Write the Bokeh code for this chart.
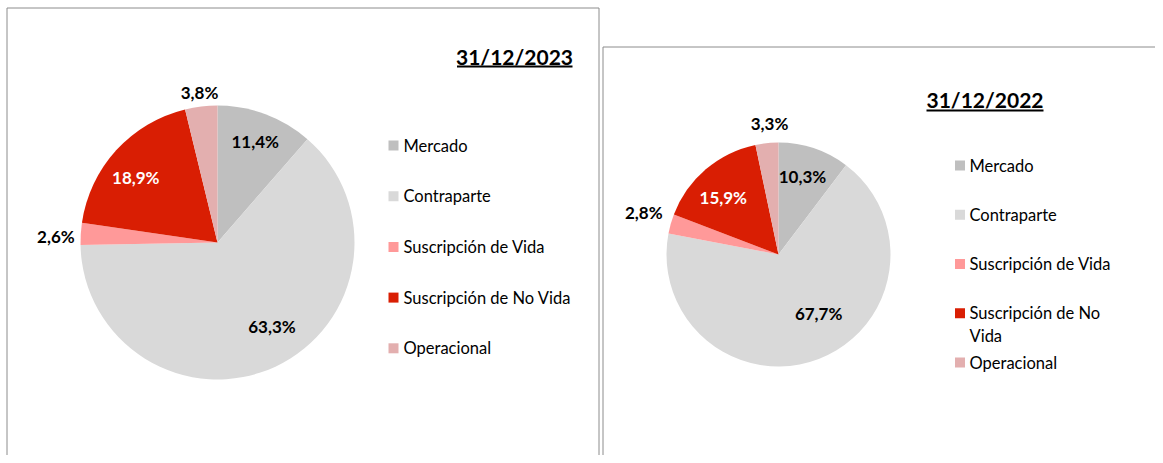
import math
from bokeh.plotting import figure
from bokeh.models import Range1d
from bokeh.core.properties import value
from bokeh.embed import file_html
from bokeh.resources import INLINE

# ---------------- data ----------------
categories = ["Mercado", "Contraparte", "Suscripción de Vida",
              "Suscripción de No Vida", "Operacional"]
values_2023 = [11.4, 63.3, 2.6, 18.9, 3.8]
values_2022 = [10.3, 67.7, 2.8, 15.9, 3.3]
title_2023 = "31/12/2023"
title_2022 = "31/12/2022"

# ---------------- style ----------------
colors = ["#BFBFBF", "#D9D9D9", "#FF9999", "#D91E03", "#E3AFAF"]
label_colors = ["#000000", "#000000", "#000000", "#FFFFFF", "#000000"]
FONT = "Lato"

W, H = 1155, 455


def X(px):
    return px


def Y(py):
    return H - py


p = figure(width=W, height=H, x_range=Range1d(0, W), y_range=Range1d(0, H),
           output_backend="svg", toolbar_location=None, min_border=0)
p.axis.visible = False
p.grid.visible = False
p.outline_line_color = None
p.background_fill_color = "white"
p.border_fill_color = "white"

# panel frames (bottom edges are cut off by the window)
border = "#8C8C8C"
p.line(x=[X(6.5), X(6.5), X(598.5), X(598.5)],
       y=[0, Y(7.5), Y(7.5), 0], line_color=border, line_width=1)
p.line(x=[X(602.5), X(602.5), W],
       y=[0, Y(46.5), Y(46.5)], line_color=border, line_width=1)

panels = [
    dict(vals=values_2023, title=title_2023, cx=217, cy=242, r=137,
         lab_f=[0.785, 0.73, 1.18, 0.76, 1.10], lab_s=[0, -8, -1.6, -4, 0],
         tx=514, ty=55.5, ul=(456.5, 572, 66),
         sq_x=393, txt_x=403, ly0=145, ldy=50.7, wrap=False),
    dict(vals=values_2022, title=title_2022, cx=778, cy=254, r=112,
         lab_f=[0.73, 0.64, 1.26, 0.71, 1.17], lab_s=[-1.5, -13, 1.5, -3.5, 2],
         tx=984.5, ty=99, ul=(926, 1043, 110),
         sq_x=959.5, txt_x=969, ly0=165, ldy=49.25, wrap=True),
]

for pn in panels:
    vals = pn["vals"]
    total = sum(vals)
    cx, cy, r = X(pn["cx"]), Y(pn["cy"]), pn["r"]
    starts, ends, mids = [], [], []
    cum = 0.0
    for v in vals:
        a0 = cum / total * 360.0
        cum += v
        a1 = cum / total * 360.0
        starts.append(math.pi / 2 - math.radians(a0))
        ends.append(math.pi / 2 - math.radians(a1))
        mids.append((a0 + a1) / 2)
    p.wedge(x=cx, y=cy, radius=r, start_angle=starts, end_angle=ends,
            direction="clock", fill_color=colors, line_color=None)

    # data labels
    lx, ly, lt = [], [], []
    for v, m, f, s in zip(vals, mids, pn["lab_f"], pn["lab_s"]):
        ang = math.radians(m + s)
        lx.append(cx + f * r * math.sin(ang))
        ly.append(cy + f * r * math.cos(ang))
        lt.append(f"{v:.1f}%".replace(".", ","))
    p.text(x=lx, y=ly, text=lt, text_color=label_colors,
           text_font=value(FONT), text_font_style="bold",
           text_font_size="17px", text_align="center", text_baseline="middle")

    # title with underline
    p.text(x=[X(pn["tx"])], y=[Y(pn["ty"])], text=[pn["title"]],
           text_color="#000000", text_font=value(FONT), text_font_style="bold",
           text_font_size="21px", text_align="center", text_baseline="middle")
    u0, u1, uy = pn["ul"]
    p.line(x=[X(u0), X(u1)], y=[Y(uy), Y(uy)], line_color="#000000", line_width=2)

    # legend
    sx, sy, tx_, ty_, tt = [], [], [], [], []
    for i, cat in enumerate(categories):
        yy = pn["ly0"] + i * pn["ldy"]
        sx.append(X(pn["sq_x"]))
        sy.append(Y(yy))
        lines = [cat]
        if pn["wrap"] and len(cat) > 19:
            lines = cat.rsplit(" ", 1)
        for j, ln in enumerate(lines):
            tx_.append(X(pn["txt_x"]))
            ty_.append(Y(yy + j * 23))
            tt.append(ln)
    p.rect(x=sx, y=sy, width=10, height=10, fill_color=colors, line_color=None)
    p.text(x=tx_, y=ty_, text=tt, text_color="#000000", text_font=value(FONT),
           text_font_size="16.5px", text_align="left", text_baseline="middle")

open("out.html", "w").write(file_html(p, INLINE))
